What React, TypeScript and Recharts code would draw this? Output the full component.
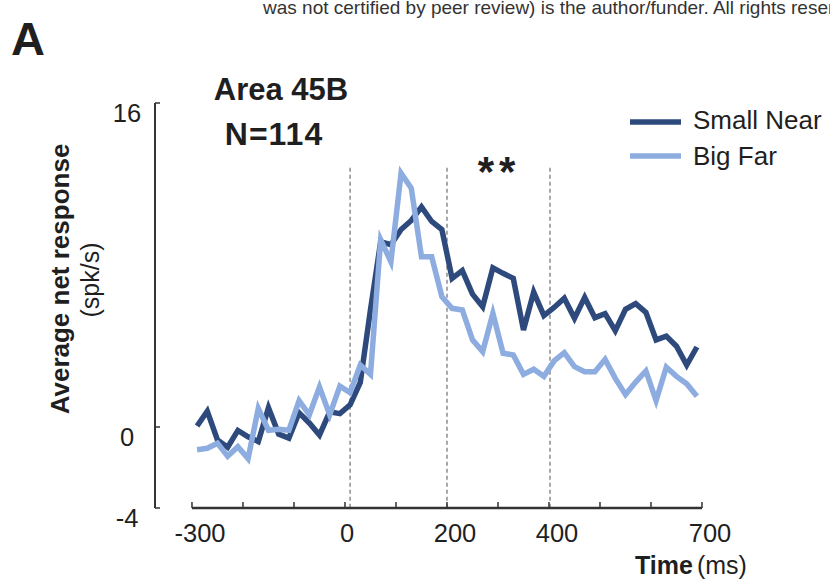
import React from "react";
import { LineChart, Line, XAxis, YAxis, ReferenceLine, Customized } from "recharts";

// Bin centres in ms (20 ms bins)
const times = [
  -290, -270, -250, -230, -210, -190, -170, -150, -130, -110,
  -90, -70, -50, -30, -10, 10, 30, 50, 70, 90,
  110, 130, 150, 170, 190, 210, 230, 250, 270, 290,
  310, 330, 350, 370, 390, 410, 430, 450, 470, 490,
  510, 530, 550, 570, 590, 610, 630, 650, 670, 690,
];

// Average net response (spk/s)
const smallNear = [
  0.05, 0.78, -0.64, -1.0, -0.17, -0.48, -0.72, 0.95, -0.35, -0.55,
  0.7, 0.2, -0.4, 0.75, 0.66, 1.09, 2.2, 5.8, 9.15, 9.0,
  9.75, 10.2, 10.87, 10.15, 9.75, 7.34, 7.72, 6.56, 5.94, 7.86,
  7.59, 7.34, 4.79, 6.66, 5.5, 5.9, 6.36, 5.37, 6.4, 5.4,
  5.6, 4.76, 5.81, 6.09, 5.66, 4.3, 4.49, 3.99, 3.06, 3.95,
];

const bigFar = [
  -1.12, -1.05, -0.8, -1.44, -0.97, -1.56, 0.92, -0.16, -0.11, -0.16,
  1.3, 0.6, 1.98, 0.6, 2.02, 1.7, 3.06, 2.6, 9.25, 8.16,
  12.53, 11.79, 8.41, 8.41, 6.43, 5.86, 5.78, 4.3, 3.72, 5.61,
  3.64, 3.56, 2.6, 2.85, 2.5, 3.26, 3.67, 2.98, 2.73, 2.73,
  3.34, 2.4, 1.6, 2.22, 2.77, 1.3, 2.95, 2.5, 2.14, 1.52,
];

const xTicks = [-300, -200, -100, 0, 100, 200, 300, 400, 500, 600, 700];
const xTickLabels = [-300, 0, 200, 400, 700];
const yTicks = [-4, 0, 16];
const epochMarks = [10, 200, 402];

const seriesNames = ["Small Near", "Big Far"];
const seriesColors = ["#2E4A7D", "#8DACDF"];

const rows = times.map((t, i) => ({ t, smallNear: smallNear[i], bigFar: bigFar[i] }));

const FONT = "'Liberation Sans', Arial, Helvetica, sans-serif";
const INK = "#1f1f1f";

const XTick = (props: any) => {
  const { x, y, payload } = props;
  const v = payload.value;
  const labelled = xTickLabels.includes(v);
  const dx = v === 0 ? 2 : 8;
  return (
    <g>
      <line x1={x} y1={y} x2={x} y2={y - 6} stroke="#333" strokeWidth={1.5} />
      {labelled && (
        <text x={x + dx} y={y + 34} textAnchor="middle" fontFamily={FONT} fontSize={25.5} fill={INK}>
          {v}
        </text>
      )}
    </g>
  );
};

const YTick = (props: any) => {
  const { x, y, payload } = props;
  return (
    <g>
      <line x1={x} y1={y} x2={x + 5} y2={y} stroke="#333" strokeWidth={1.5} />
      <text x={x - 28} y={y + 19} textAnchor="middle" fontFamily={FONT} fontSize={25.5} fill={INK}>
        {payload.value}
      </text>
    </g>
  );
};

const Annotations = () => (
  <g fontFamily={FONT} fill={INK}>
    <text x={263} y={14} fontSize={19} fill="#333">
      was not certified by peer review) is the author/funder. All rights reserved. No reuse allowed without permission.
    </text>
    <text x={11} y={55} fontSize={47} fontWeight="bold">A</text>
    <text x={281} y={100} fontSize={31} fontWeight="bold" textAnchor="middle">Area 45B</text>
    <text x={274} y={145} fontSize={32} fontWeight="bold" textAnchor="middle" letterSpacing={1}>N=114</text>
    <text x={499} y={186} fontSize={42} fontWeight="bold" textAnchor="middle" letterSpacing={5}>**</text>

    <text transform="translate(69,279) rotate(-90)" fontSize={26} fontWeight="bold" textAnchor="middle">
      Average net response
    </text>
    <text transform="translate(99,280) rotate(-90)" fontSize={25} textAnchor="middle">(spk/s)</text>

    <text x={635} y={574} fontSize={25}>
      <tspan fontWeight="bold">Time</tspan>
      <tspan dx={4}>(ms)</tspan>
    </text>

    {seriesNames.map((name, i) => (
      <g key={name}>
        <line x1={630} x2={681} y1={122 + i * 34} y2={122 + i * 34} stroke={seriesColors[i]} strokeWidth={5.5} />
        <text x={693} y={129 + i * 36} fontSize={26}>{name}</text>
      </g>
    ))}
  </g>
);

export default function App() {
  return (
    <div style={{ position: "absolute", left: 0, top: 0, width: 830, height: 581, overflow: "hidden", background: "#fff" }}>
      <LineChart width={830} height={581} data={rows} margin={{ top: 103, right: 128, bottom: 33, left: 95 }}>
        <XAxis
          dataKey="t"
          type="number"
          domain={[-372.5, 700]}
          ticks={xTicks}
          axisLine={false}
          tickLine={false}
          tickSize={0}
          tickMargin={0}
          tick={<XTick />}
          height={40}
          interval={0}
        />
        <YAxis
          type="number"
          domain={[-4, 16]}
          ticks={yTicks}
          width={60}
          axisLine={{ stroke: "#333", strokeWidth: 2 }}
          tickLine={false}
          tickSize={0}
          tickMargin={0}
          tick={<YTick />}
          interval={0}
        />
        {epochMarks.map((m) => (
          <ReferenceLine
            key={m}
            segment={[{ x: m, y: 12.8 }, { x: m, y: -4 }]}
            stroke="#8c8c8c"
            strokeWidth={1.5}
            strokeDasharray="4 3"
          />
        ))}
        <ReferenceLine segment={[{ x: -300, y: -4 }, { x: 700, y: -4 }]} stroke="#333" strokeWidth={2.5} />
        <Line
          type="linear"
          dataKey="smallNear"
          stroke={seriesColors[0]}
          strokeWidth={5.5}
          dot={false}
          isAnimationActive={false}
        />
        <Line
          type="linear"
          dataKey="bigFar"
          stroke={seriesColors[1]}
          strokeWidth={5.5}
          dot={false}
          isAnimationActive={false}
        />
        <Customized component={<Annotations />} />
      </LineChart>
    </div>
  );
}
